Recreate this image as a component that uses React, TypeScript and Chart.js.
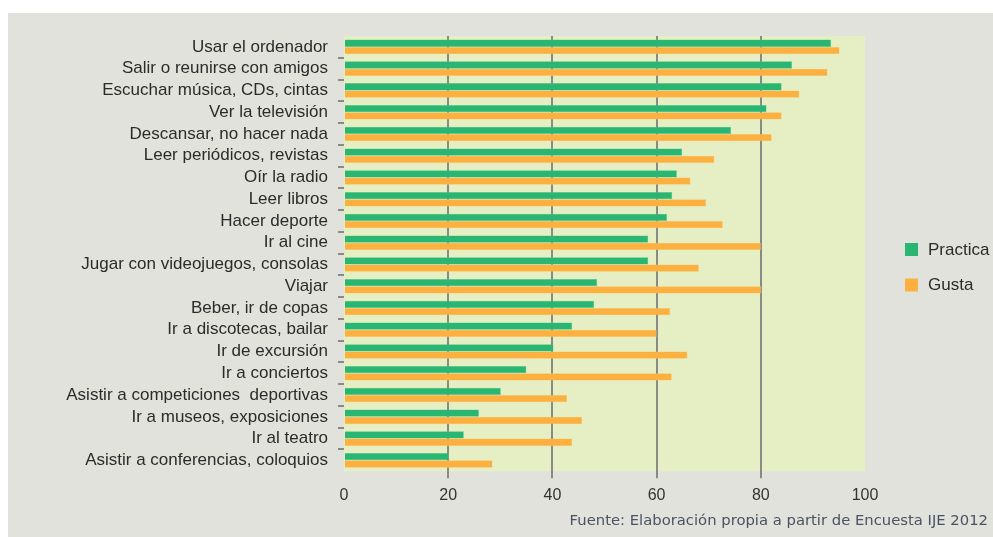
import React, { useEffect, useRef } from "react";
import { Chart, registerables } from "chart.js";

Chart.register(...registerables);

const categories = [
  "Usar el ordenador",
  "Salir o reunirse con amigos",
  "Escuchar música, CDs, cintas",
  "Ver la televisión",
  "Descansar, no hacer nada",
  "Leer periódicos, revistas",
  "Oír la radio",
  "Leer libros",
  "Hacer deporte",
  "Ir al cine",
  "Jugar con videojuegos, consolas",
  "Viajar",
  "Beber, ir de copas",
  "Ir a discotecas, bailar",
  "Ir de excursión",
  "Ir a conciertos",
  "Asistir a competiciones  deportivas",
  "Ir a museos, exposiciones",
  "Ir al teatro",
  "Asistir a conferencias, coloquios",
];

const practica = [93.5, 86.0, 84.0, 81.1, 74.3, 64.9, 63.9, 63.0, 62.0, 58.4, 58.4, 48.6, 48.0, 43.8, 40.2, 35.0, 30.1, 25.9, 23.0, 20.1];
const gusta = [95.1, 92.8, 87.4, 84.0, 82.1, 71.1, 66.5, 69.5, 72.7, 80.0, 68.1, 80.1, 62.6, 60.0, 65.9, 62.9, 42.8, 45.7, 43.8, 28.5];

const xTicks = [0, 20, 40, 60, 80, 100];
const seriesNames = ["Practica", "Gusta"];
const seriesColors = ["#29b673", "#fbb040"];
const sourceText = "Fuente: Elaboración propia a partir de Encuesta IJE 2012";

const FONT = "'Liberation Sans', Arial, sans-serif";

const plotBg = {
  id: "plotBg",
  beforeDraw(chart: any) {
    const { ctx, chartArea } = chart;
    if (!chartArea) return;
    ctx.save();
    ctx.fillStyle = "#e6efc3";
    ctx.fillRect(chartArea.left, chartArea.top, chartArea.right - chartArea.left, chartArea.bottom - chartArea.top);
    ctx.restore();
  },
};

// Legend drawn to the right of the plot, stacked vertically
const sideLegend = {
  id: "sideLegend",
  afterDraw(chart: any) {
    const { ctx, chartArea } = chart;
    const boxX = chartArea.right + 40;
    const firstY = 236.5;
    const step = 35.5;
    ctx.save();
    ctx.font = `17px ${FONT}`;
    ctx.textBaseline = "middle";
    ctx.textAlign = "left";
    chart.data.datasets.forEach((ds: any, i: number) => {
      const cy = firstY + i * step;
      ctx.fillStyle = ds.backgroundColor;
      ctx.fillRect(boxX, cy - 6.5, 13, 13);
      ctx.fillStyle = "#2b2b2b";
      ctx.fillText(ds.label, boxX + 23, cy + 0.5);
    });
    ctx.restore();
  },
};

export default function App() {
  const ref = useRef<HTMLCanvasElement | null>(null);

  useEffect(() => {
    if (!ref.current) return;
    const chart = new Chart(ref.current, {
      type: "bar",
      data: {
        labels: categories,
        datasets: [
          {
            label: seriesNames[0],
            data: practica,
            backgroundColor: seriesColors[0],
            borderColor: "#5cc893",
            borderWidth: 0.5,
            categoryPercentage: 0.67,
            barPercentage: 1.0,
          },
          {
            label: seriesNames[1],
            data: gusta,
            backgroundColor: seriesColors[1],
            borderColor: "#fcc46c",
            borderWidth: 0.5,
            categoryPercentage: 0.67,
            barPercentage: 1.0,
          },
        ],
      },
      plugins: [plotBg, sideLegend],
      options: {
        indexAxis: "y",
        animation: false,
        responsive: false,
        maintainAspectRatio: false,
        layout: { padding: { top: 23, left: 0, right: 5, bottom: 0 } },
        scales: {
          x: {
            type: "linear",
            min: 0,
            max: 100,
            afterBuildTicks: (scale: any) => {
              scale.ticks = xTicks.map((v) => ({ value: v }));
            },
            afterFit: (scale: any) => {
              scale.height = 30;
            },
            grid: {
              color: (ctx: any) =>
                ctx.type !== "tick" || ctx.index === 0 || ctx.index === xTicks.length - 1 ? "rgba(0,0,0,0)" : "#8a8a84",
              lineWidth: 2,
              tickLength: 7,
              drawOnChartArea: true,
            },
            border: { display: false },
            ticks: {
              color: "#333333",
              font: { family: FONT, size: 16 },
              padding: 8,
            },
          },
          y: {
            type: "category",
            afterFit: (scale: any) => {
              scale.width = 336;
            },
            grid: {
              offset: true,
              drawOnChartArea: false,
              tickLength: 6,
              lineWidth: 2,
              color: (ctx: any) => (ctx.type !== "tick" || ctx.index === 0 ? "rgba(0,0,0,0)" : "#8a8a84"),
            },
            border: { display: false },
            ticks: {
              color: "#2b2b2b",
              font: { family: FONT, size: 17 },
              padding: 10,
              autoSkip: false,
            },
          },
          pad: {
            type: "linear",
            position: "right",
            display: true,
            grid: { display: false },
            border: { display: false },
            ticks: { display: false },
            afterFit: (scale: any) => {
              scale.width = 123;
            },
          },
        },
        plugins: {
          legend: { display: false },
          title: {
            display: true,
            text: sourceText,
            position: "bottom",
            align: "end",
            color: "#4a5263",
            font: { family: "'DejaVu Sans', sans-serif", size: 14.8, weight: "normal" },
            padding: { top: 11, bottom: 7 },
          },
          tooltip: { enabled: false },
        },
      },
    } as any);
    return () => chart.destroy();
  }, []);

  return (
    <div
      style={{
        position: "absolute",
        left: 8,
        top: 13,
        width: 985,
        height: 524,
        background: "#e2e2dc",
      }}
    >
      <canvas ref={ref} width={985} height={524} style={{ display: "block", width: 985, height: 524 }} />
    </div>
  );
}
